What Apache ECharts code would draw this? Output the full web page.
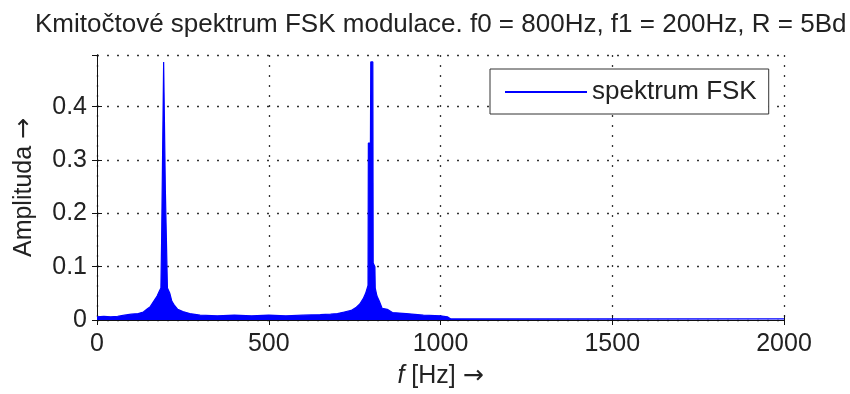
<!DOCTYPE html>
<html><head><meta charset="utf-8">
<script src="https://cdn.jsdelivr.net/npm/echarts@6/dist/echarts.min.js"></script>
<style>html,body{margin:0;padding:0;background:#fff}#c{width:850px;height:394px}</style>
</head><body><div id="c"></div>
<script>
// Spectrum envelope (frequency in Hz, amplitude)
const freqHz = [0,20,40,60,80,100,120,135,145,155,165,175,182,186,188,193,194,198,199,204,205,212,218,225,235,250,270,300,350,400,450,500,550,600,650,680,700,720,740,755,765,775,782,789,790,796,797,803,804,809,810,815,822,830,845,860,900,950,1000,1020,1030,2000];
const amplitude = [0.006,0.007,0.006,0.007,0.009,0.011,0.012,0.015,0.02,0.025,0.035,0.045,0.055,0.06,0.144,0.144,0.484,0.484,0.244,0.244,0.06,0.05,0.035,0.028,0.02,0.016,0.012,0.009,0.008,0.009,0.008,0.009,0.008,0.009,0.01,0.011,0.012,0.015,0.018,0.024,0.03,0.04,0.05,0.065,0.332,0.332,0.484,0.484,0.107,0.1,0.06,0.045,0.035,0.022,0.02,0.014,0.012,0.009,0.008,0.006,0.002,0.002];
const xTicks = [0,500,1000,1500,2000];
const yTicks = [0,0.1,0.2,0.3,0.4];
const titleText = 'Kmitočtové spektrum FSK modulace. f0 = 800Hz, f1 = 200Hz, R = 5Bd';
const seriesName = 'spektrum FSK';

const FONT = "'Liberation Sans',Arial,sans-serif";
const ARROWFONT = "'DejaVu Sans',sans-serif";
const TXT = '#222';
const chart = echarts.init(document.getElementById('c'), null, {renderer:'canvas'});
const grid = {left:97, right:66, top:55, bottom:74, containLabel:false, outerBoundsMode:'none'};
const dotted = {show:true, lineStyle:{color:'#333', width:1.3, type:[2,8]}};
chart.setOption({
  backgroundColor:'#fff',
  animation:false,
  title:{text:titleText, left:30, top:7, textStyle:{fontFamily:FONT, fontSize:26, fontWeight:'normal', color:TXT}},
  legend:{data:[{name:seriesName, icon:'rect'}], left:490, top:69, orient:'horizontal',
    itemWidth:82, itemHeight:2, padding:[10,12,9,15], borderColor:'#333', borderWidth:1, backgroundColor:'#fff',
    textStyle:{fontFamily:FONT, fontSize:26, color:TXT}},
  grid:grid,
  xAxis:[{type:'value', min:0, max:2000, interval:500, position:'bottom',
    axisLine:{show:true, lineStyle:{color:'#111', width:1}},
    axisTick:{show:true, inside:true, length:5, lineStyle:{color:'#111'}},
    axisLabel:{fontFamily:FONT, fontSize:25, color:TXT, margin:12, formatter:v=>xTicks.includes(v)?String(v):''},
    splitLine:dotted,
    name:'{i|f} [Hz] {a|→}', nameLocation:'middle', nameGap:44,
    nameTextStyle:{fontFamily:FONT, fontSize:25, color:TXT, rich:{
      i:{fontFamily:FONT, fontSize:25, fontStyle:'italic', color:TXT},
      a:{fontFamily:ARROWFONT, fontSize:25, color:TXT}}}},
   {type:'value', min:0, max:2000, interval:500, position:'top',
    axisLine:{show:true, lineStyle:{color:'#111'}}, axisTick:{show:true, inside:true, length:5, lineStyle:{color:'#111'}},
    axisLabel:{show:false}, splitLine:{show:false}}],
  yAxis:[{type:'value', min:0, max:0.497, interval:0.1, position:'left',
    axisLine:{show:true, lineStyle:{color:'#111'}},
    axisTick:{show:true, inside:true, length:5, lineStyle:{color:'#111'}},
    axisLabel:{fontFamily:FONT, fontSize:25, color:TXT, margin:10, showMaxLabel:false,
      formatter:v=>{const r=Math.round(v*10)/10; return Math.abs(v-r)<1e-6 && yTicks.includes(r)?String(r):'';}},
    splitLine:dotted,
    name:'Amplituda {a|→}', nameLocation:'middle', nameGap:60, nameRotate:90,
    nameTextStyle:{fontFamily:FONT, fontSize:25, color:TXT, rich:{a:{fontFamily:ARROWFONT, fontSize:25, color:TXT}}}},
   {type:'value', min:0, max:0.497, interval:0.1, position:'right',
    axisLine:{show:true, lineStyle:{color:'#111'}}, axisTick:{show:true, inside:true, length:5, lineStyle:{color:'#111'}},
    axisLabel:{show:false}, splitLine:{show:false}}],
  series:[{name:seriesName, type:'line', xAxisIndex:0, yAxisIndex:0,
    data:freqHz.map((f,i)=>[f, amplitude[i]]), showSymbol:false, symbol:'none',
    lineStyle:{color:'#0000ff', width:1.2}, itemStyle:{color:'#0000ff'},
    areaStyle:{color:'#0000ff', opacity:1}}]
});
</script></body></html>
